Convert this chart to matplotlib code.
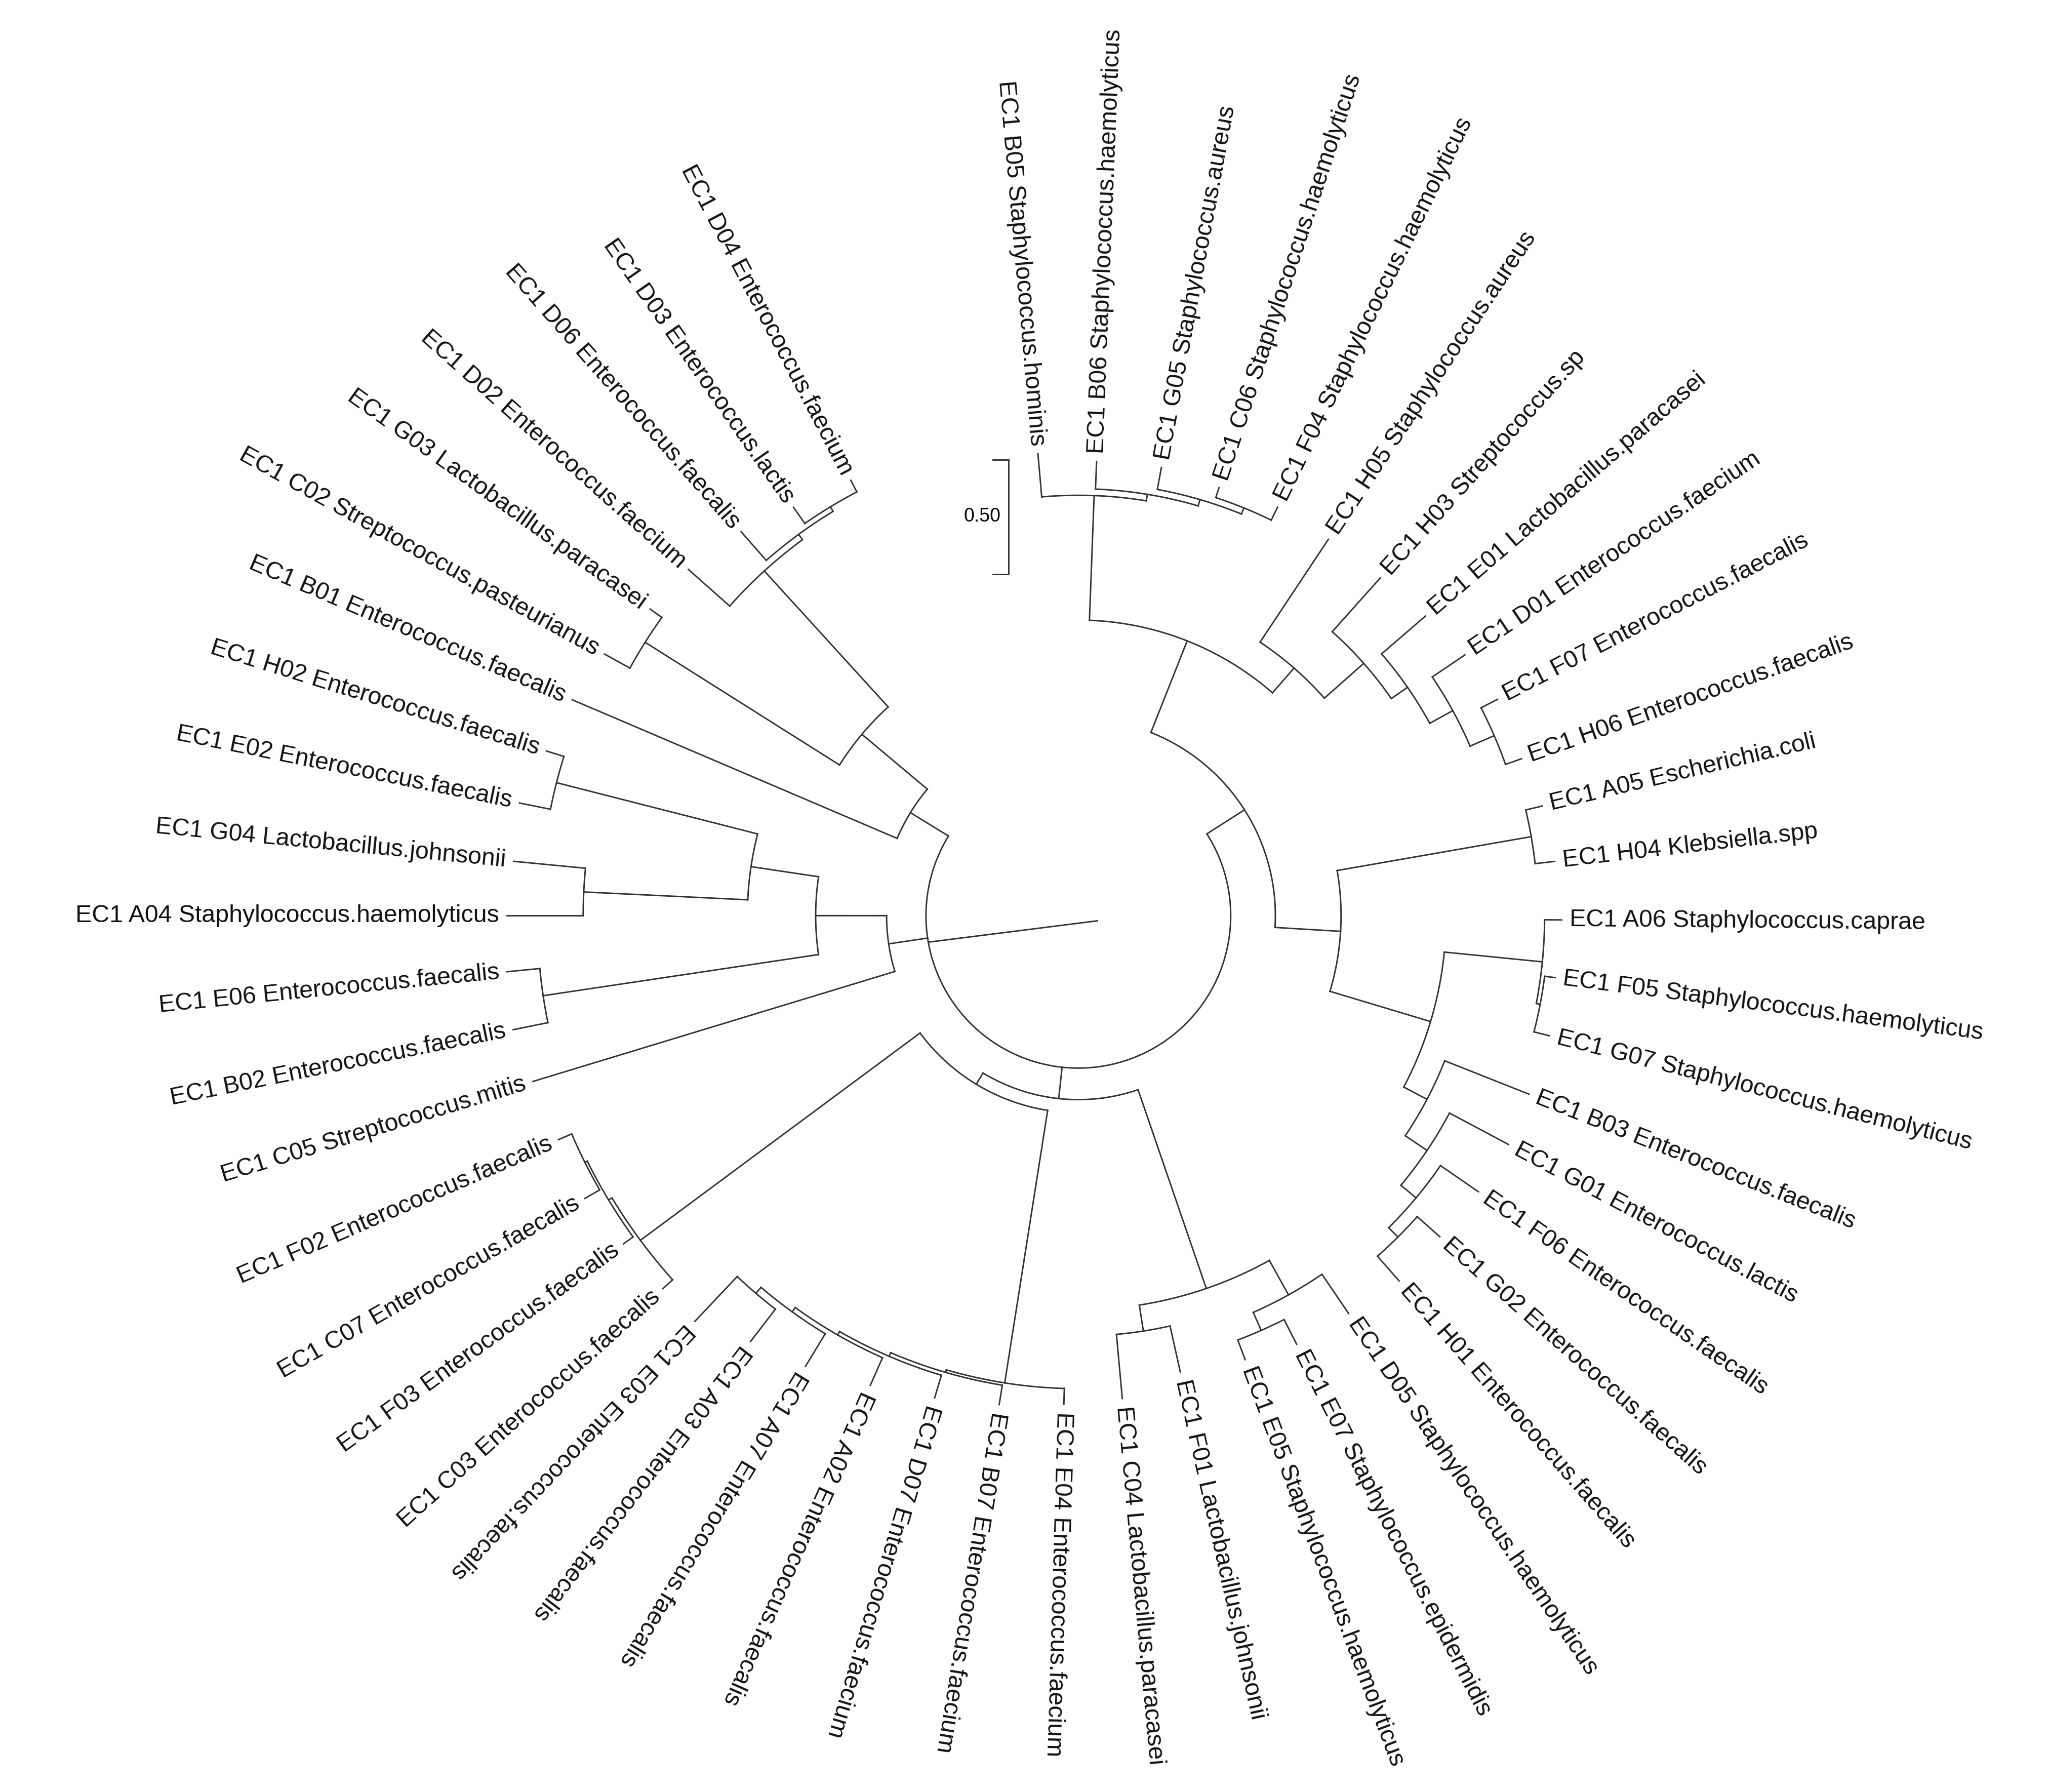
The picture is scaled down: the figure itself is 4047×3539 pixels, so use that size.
import numpy as np
import matplotlib
matplotlib.use("Agg")
from matplotlib import pyplot as plt

plt.rcParams['font.family'] = ['Liberation Sans', 'DejaVu Sans']

# leaf id, label, angle (deg, math convention), radius of label start (px of a 1560-wide canvas)
leaf_ids = ["B05", "B06", "G05", "C06", "F04", "H05", "H03", "E01", "D01", "F07", "H06",
            "A05", "H04", "A06", "F05", "G07", "B03", "G01", "F06", "G02", "H01",
            "D05", "E07", "E05", "F01", "C04", "E04", "B07", "D07", "A02", "A07", "A03",
            "E03", "C03", "F03", "C07", "F02", "C05", "B02", "E06", "A04", "G04", "E02",
            "H02", "B01", "C02", "G03", "D02", "D06", "D03", "D04"]
leaf_species = ["Staphylococcus.hominis", "Staphylococcus.haemolyticus", "Staphylococcus.aureus",
                "Staphylococcus.haemolyticus", "Staphylococcus.haemolyticus", "Staphylococcus.aureus",
                "Streptococcus.sp", "Lactobacillus.paracasei", "Enterococcus.faecium",
                "Enterococcus.faecalis", "Enterococcus.faecalis", "Escherichia.coli", "Klebsiella.spp",
                "Staphylococcus.caprae", "Staphylococcus.haemolyticus", "Staphylococcus.haemolyticus",
                "Enterococcus.faecalis", "Enterococcus.lactis", "Enterococcus.faecalis",
                "Enterococcus.faecalis", "Enterococcus.faecalis", "Staphylococcus.haemolyticus",
                "Staphylococcus.epidermidis", "Staphylococcus.haemolyticus", "Lactobacillus.johnsonii",
                "Lactobacillus.paracasei", "Enterococcus.faecium", "Enterococcus.faecium",
                "Enterococcus.faecium", "Enterococcus.faecalis", "Enterococcus.faecalis",
                "Enterococcus.faecalis", "Enterococcus.faecalis", "Enterococcus.faecalis",
                "Enterococcus.faecalis", "Enterococcus.faecalis", "Enterococcus.faecalis",
                "Streptococcus.mitis", "Enterococcus.faecalis", "Enterococcus.faecalis",
                "Staphylococcus.haemolyticus", "Lactobacillus.johnsonii", "Enterococcus.faecalis",
                "Enterococcus.faecalis", "Enterococcus.faecalis", "Streptococcus.pasteurianus",
                "Lactobacillus.paracasei", "Enterococcus.faecium", "Enterococcus.faecalis",
                "Enterococcus.lactis", "Enterococcus.faecium"]
leaf_angles = [95, 87.7, 79.5, 71.8, 64, 56.4, 48.2, 40.8, 34, 27.3, 19.5,
               13.3, 6.5, -0.5, -7.4, -14.3, -21.6, -28, -34.6, -41.6, -48.7,
               -55.8, -63, -69.4, -77.4, -84.8, -91.7, -99.2, -106.6, -113.9, -121.2, -127.6,
               -133.4, -138.1, -144.2, -150.2, -156.7, -163.1, -168.6, -174.4, 180, 174.5, 168.6,
               162.8, 156.9, 151.1, 144.4, 138.4, 131.3, 124.9, 117.6]
leaf_label_r = [359, 352, 353, 349, 352, 350, 351, 355, 361, 365, 364,
                369, 371, 374, 372, 376, 375, 377, 376, 374, 376,
                372, 372, 367, 362, 375, 378, 383, 389, 397, 407, 415,
                431, 431, 433, 439, 437, 440, 445, 443, 441, 438, 440,
                430, 425, 418, 407, 403, 395, 385, 380]

# tree: (node radius, [children]); leaves are ids
right_clade = (150, [
    (225, [
        (320, ["B05", (325, ["B06", (330, ["G05", (335, ["C06", "F04"])])])]),
        (250, ["H05", (290, ["H03", (305, ["E01", (325, ["D01", (345, ["F07", "H06"])])])])]),
    ]),
    (200, [
        (350, ["A05", "H04"]),
        (280, [
            (355, ["A06", (358, ["F05", "G07"])]),
            (300, ["B03", (320, ["G01", (335, ["F06", (345, ["G02", "H01"])])])]),
        ]),
    ]),
])
bottom_clade = (140, [
    (300, [(330, ["D05", (345, ["E07", "E05"])]), (320, ["F01", "C04"])]),
    (150, [
        (360, ["E04", (362, ["B07", (365, ["D07", (368, ["A02", (372, ["A07", (378, ["A03", "E03"])])])])])]),
        (415, ["C03", (418, ["F03", (420, ["C07", "F02"])])]),
    ]),
])
left_clade = (146, ["C05", (200, [(252, [(410, ["H02", "E02"]), (377, ["G04", "A04"])]),
                                   (412, ["E06", "B02"])])])
upper_left_clade = (150, ["B01", (215, [(355, ["D02", (360, ["D06", (364, ["D03", "D04"])])]),
                                        (390, ["C02", "G03"])])])
tree = (116, [right_clade, bottom_clade, left_clade, upper_left_clade])

CX, CY = 821, 697
LW = 0.7
COL = "#333333"

# unwrap angles so they decrease clockwise
angles = []
prev = None
for a in leaf_angles:
    if prev is not None:
        while a > prev:
            a -= 360
    angles.append(a)
    prev = a
leaf = {k: (ang, r - 6) for k, ang, r in zip(leaf_ids, angles, leaf_label_r)}


def xy(r, ang):
    t = np.radians(ang)
    return CX + r * np.cos(t), CY - r * np.sin(t)


fig = plt.figure(figsize=(4047 / 300, 3539 / 300), dpi=300)
ax = fig.add_axes([0, 0, 1, 1])
ax.set_xlim(0, 1560)
ax.set_ylim(1364, 0)
ax.axis("off")


def draw(node, parent_r):
    if isinstance(node, str):
        ang, r = leaf[node]
        x0, y0 = xy(parent_r, ang)
        x1, y1 = xy(r, ang)
        ax.plot([x0, x1], [y0, y1], color=COL, lw=LW)
        return ang
    r, kids = node
    kid_angles = [draw(k, r) for k in kids]
    a = np.linspace(min(kid_angles), max(kid_angles), 200)
    xs, ys = xy(r, a)
    ax.plot(xs, ys, color=COL, lw=LW)
    mid = (min(kid_angles) + max(kid_angles)) / 2
    if parent_r is not None:
        x0, y0 = xy(parent_r, mid)
        x1, y1 = xy(r, mid)
        ax.plot([x0, x1], [y0, y1], color=COL, lw=LW)
    return mid


draw(tree, None)
# root stub
x0, y0 = xy(116, -170)
x1, y1 = xy(15, -15)
ax.plot([x0, x1], [y0, y1], color=COL, lw=LW)

# labels
for k, sp, ang, r in zip(leaf_ids, leaf_species, angles, leaf_label_r):
    a = ((ang + 180) % 360) - 180
    x, y = xy(r, ang)
    label = "EC1 " + k + " " + sp
    if a > 90 or a < -135.5:
        ax.text(x, y, label, rotation=a + 180, ha="right", va="center",
                rotation_mode="anchor", fontsize=11.6, color="#111111")
    else:
        ax.text(x, y, label, rotation=a, ha="left", va="center",
                rotation_mode="anchor", fontsize=11.6, color="#111111")

# scale bar
ax.plot([768, 768], [350, 437], color=COL, lw=LW)
ax.plot([756, 768], [350, 350], color=COL, lw=LW)
ax.plot([756, 768], [437, 437], color=COL, lw=LW)
ax.text(748, 393, "0.50", ha="center", va="center", fontsize=9)

fig.savefig("out.png", dpi=300)
